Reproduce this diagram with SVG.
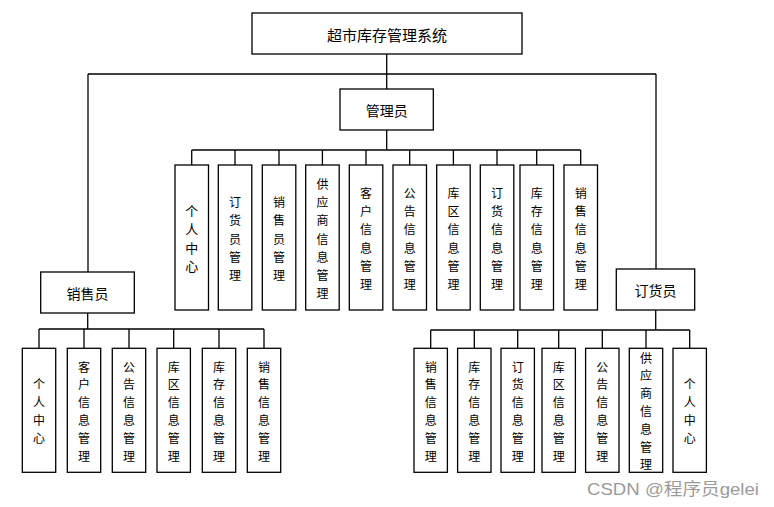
<svg xmlns="http://www.w3.org/2000/svg" width="774" height="507" viewBox="0 0 774 507">
<style>
.box{fill:#fff;stroke:#000;stroke-width:1.3}
.ln{fill:none;stroke:#000;stroke-width:1.3}
.t{font-family:"Noto Sans CJK SC","Liberation Sans",sans-serif;font-size:14px;fill:#000;text-anchor:middle;dominant-baseline:central}
.v{font-family:"Noto Sans CJK SC","Liberation Sans",sans-serif;font-size:12px;fill:#000;text-anchor:middle;dominant-baseline:central}
.wm{font-family:"Liberation Sans","Noto Sans CJK SC",sans-serif;font-size:17px;fill:#9a9a9a}
</style>
<rect width="774" height="507" fill="#fff"/>
<g id="connectors">
<path class="ln" d="M386.7 54V89M88 74H656M88 74V272M656 74V269"/>
<path class="ln" d="M386.7 130V150M191.7 150H580.7M191.7 150V165M235 150V165M279 150V165M322.4 150V165M366 150V165M409.7 150V165M453.4 150V165M497 150V165M536.7 150V165M580.7 150V165"/>
<path class="ln" d="M87.7 313V329M39 329H264M39 329V348M84 329V348M129 329V348M173.7 329V348M219 329V348M264 329V348"/>
<path class="ln" d="M655.7 310V330M430.7 330H689.7M430.7 330V348M474.3 330V348M517.7 330V348M558.7 330V348M602.3 330V348M646 330V348M689.7 330V348"/>
</g>
<g id="root"><rect class="box" x="252" y="13" width="270" height="41"/><text class="t" x="387" y="34" style="font-size:15px">超市库存管理系统</text></g>
<g id="admin"><rect class="box" x="340" y="89" width="93.3" height="41"/><text class="t" x="386.7" y="110">管理员</text></g>
<g id="seller"><rect class="box" x="40.7" y="272" width="93.6" height="41"/><text class="t" x="87.5" y="293">销售员</text></g>
<g id="orderer"><rect class="box" x="616.3" y="269" width="78.4" height="41"/><text class="t" x="655.5" y="290">订货员</text></g>

<g id="a1"><rect class="box" x="175" y="165" width="33.5" height="145"/><text class="v" style="font-size:13px"><tspan x="191.7" y="210.2">个</tspan><tspan x="191.7" dy="18.2">人</tspan><tspan x="191.7" dy="18.2">中</tspan><tspan x="191.7" dy="18.2">心</tspan></text></g>
<g id="a2"><rect class="box" x="218.3" y="165" width="33.5" height="145"/><text class="v"><tspan x="235" y="201.1">订</tspan><tspan x="235" dy="18.2">货</tspan><tspan x="235" dy="18.2">员</tspan><tspan x="235" dy="18.2">管</tspan><tspan x="235" dy="18.2">理</tspan></text></g>
<g id="a3"><rect class="box" x="262.3" y="165" width="33.5" height="145"/><text class="v"><tspan x="279" y="201.1">销</tspan><tspan x="279" dy="18.2">售</tspan><tspan x="279" dy="18.2">员</tspan><tspan x="279" dy="18.2">管</tspan><tspan x="279" dy="18.2">理</tspan></text></g>
<g id="a4"><rect class="box" x="305.7" y="165" width="33.5" height="145"/><text class="v"><tspan x="322.4" y="182.9">供</tspan><tspan x="322.4" dy="18.2">应</tspan><tspan x="322.4" dy="18.2">商</tspan><tspan x="322.4" dy="18.2">信</tspan><tspan x="322.4" dy="18.2">息</tspan><tspan x="322.4" dy="18.2">管</tspan><tspan x="322.4" dy="18.2">理</tspan></text></g>
<g id="a5"><rect class="box" x="349.3" y="165" width="33.5" height="145"/><text class="v"><tspan x="366" y="192">客</tspan><tspan x="366" dy="18.2">户</tspan><tspan x="366" dy="18.2">信</tspan><tspan x="366" dy="18.2">息</tspan><tspan x="366" dy="18.2">管</tspan><tspan x="366" dy="18.2">理</tspan></text></g>
<g id="a6"><rect class="box" x="393" y="165" width="33.5" height="145"/><text class="v"><tspan x="409.7" y="192">公</tspan><tspan x="409.7" dy="18.2">告</tspan><tspan x="409.7" dy="18.2">信</tspan><tspan x="409.7" dy="18.2">息</tspan><tspan x="409.7" dy="18.2">管</tspan><tspan x="409.7" dy="18.2">理</tspan></text></g>
<g id="a7"><rect class="box" x="436.7" y="165" width="33.5" height="145"/><text class="v"><tspan x="453.4" y="192">库</tspan><tspan x="453.4" dy="18.2">区</tspan><tspan x="453.4" dy="18.2">信</tspan><tspan x="453.4" dy="18.2">息</tspan><tspan x="453.4" dy="18.2">管</tspan><tspan x="453.4" dy="18.2">理</tspan></text></g>
<g id="a8"><rect class="box" x="480.3" y="165" width="33.5" height="145"/><text class="v"><tspan x="497" y="192">订</tspan><tspan x="497" dy="18.2">货</tspan><tspan x="497" dy="18.2">信</tspan><tspan x="497" dy="18.2">息</tspan><tspan x="497" dy="18.2">管</tspan><tspan x="497" dy="18.2">理</tspan></text></g>
<g id="a9"><rect class="box" x="520" y="165" width="33.5" height="145"/><text class="v"><tspan x="536.7" y="192">库</tspan><tspan x="536.7" dy="18.2">存</tspan><tspan x="536.7" dy="18.2">信</tspan><tspan x="536.7" dy="18.2">息</tspan><tspan x="536.7" dy="18.2">管</tspan><tspan x="536.7" dy="18.2">理</tspan></text></g>
<g id="a10"><rect class="box" x="564" y="165" width="33.5" height="145"/><text class="v"><tspan x="580.7" y="192">销</tspan><tspan x="580.7" dy="18.2">售</tspan><tspan x="580.7" dy="18.2">信</tspan><tspan x="580.7" dy="18.2">息</tspan><tspan x="580.7" dy="18.2">管</tspan><tspan x="580.7" dy="18.2">理</tspan></text></g>

<g id="s1"><rect class="box" x="22.3" y="348.3" width="33.4" height="124"/><text class="v"><tspan x="39" y="383.3">个</tspan><tspan x="39" dy="17.8">人</tspan><tspan x="39" dy="17.8">中</tspan><tspan x="39" dy="17.8">心</tspan></text></g>
<g id="s2"><rect class="box" x="67.3" y="348.3" width="33.4" height="124"/><text class="v"><tspan x="84" y="365.5">客</tspan><tspan x="84" dy="17.8">户</tspan><tspan x="84" dy="17.8">信</tspan><tspan x="84" dy="17.8">息</tspan><tspan x="84" dy="17.8">管</tspan><tspan x="84" dy="17.8">理</tspan></text></g>
<g id="s3"><rect class="box" x="112.3" y="348.3" width="33.4" height="124"/><text class="v"><tspan x="129" y="365.5">公</tspan><tspan x="129" dy="17.8">告</tspan><tspan x="129" dy="17.8">信</tspan><tspan x="129" dy="17.8">息</tspan><tspan x="129" dy="17.8">管</tspan><tspan x="129" dy="17.8">理</tspan></text></g>
<g id="s4"><rect class="box" x="157" y="348.3" width="33.4" height="124"/><text class="v"><tspan x="173.7" y="365.5">库</tspan><tspan x="173.7" dy="17.8">区</tspan><tspan x="173.7" dy="17.8">信</tspan><tspan x="173.7" dy="17.8">息</tspan><tspan x="173.7" dy="17.8">管</tspan><tspan x="173.7" dy="17.8">理</tspan></text></g>
<g id="s5"><rect class="box" x="202.3" y="348.3" width="33.4" height="124"/><text class="v"><tspan x="219" y="365.5">库</tspan><tspan x="219" dy="17.8">存</tspan><tspan x="219" dy="17.8">信</tspan><tspan x="219" dy="17.8">息</tspan><tspan x="219" dy="17.8">管</tspan><tspan x="219" dy="17.8">理</tspan></text></g>
<g id="s6"><rect class="box" x="247.3" y="348.3" width="33.4" height="124"/><text class="v"><tspan x="264" y="365.5">销</tspan><tspan x="264" dy="17.8">售</tspan><tspan x="264" dy="17.8">信</tspan><tspan x="264" dy="17.8">息</tspan><tspan x="264" dy="17.8">管</tspan><tspan x="264" dy="17.8">理</tspan></text></g>

<g id="o1"><rect class="box" x="414" y="348.3" width="33.4" height="124"/><text class="v"><tspan x="430.7" y="365.5">销</tspan><tspan x="430.7" dy="17.8">售</tspan><tspan x="430.7" dy="17.8">信</tspan><tspan x="430.7" dy="17.8">息</tspan><tspan x="430.7" dy="17.8">管</tspan><tspan x="430.7" dy="17.8">理</tspan></text></g>
<g id="o2"><rect class="box" x="457.6" y="348.3" width="33.4" height="124"/><text class="v"><tspan x="474.3" y="365.5">库</tspan><tspan x="474.3" dy="17.8">存</tspan><tspan x="474.3" dy="17.8">信</tspan><tspan x="474.3" dy="17.8">息</tspan><tspan x="474.3" dy="17.8">管</tspan><tspan x="474.3" dy="17.8">理</tspan></text></g>
<g id="o3"><rect class="box" x="501" y="348.3" width="33.4" height="124"/><text class="v"><tspan x="517.7" y="365.5">订</tspan><tspan x="517.7" dy="17.8">货</tspan><tspan x="517.7" dy="17.8">信</tspan><tspan x="517.7" dy="17.8">息</tspan><tspan x="517.7" dy="17.8">管</tspan><tspan x="517.7" dy="17.8">理</tspan></text></g>
<g id="o4"><rect class="box" x="542" y="348.3" width="33.4" height="124"/><text class="v"><tspan x="558.7" y="365.5">库</tspan><tspan x="558.7" dy="17.8">区</tspan><tspan x="558.7" dy="17.8">信</tspan><tspan x="558.7" dy="17.8">息</tspan><tspan x="558.7" dy="17.8">管</tspan><tspan x="558.7" dy="17.8">理</tspan></text></g>
<g id="o5"><rect class="box" x="585.6" y="348.3" width="33.4" height="124"/><text class="v"><tspan x="602.3" y="365.5">公</tspan><tspan x="602.3" dy="17.8">告</tspan><tspan x="602.3" dy="17.8">信</tspan><tspan x="602.3" dy="17.8">息</tspan><tspan x="602.3" dy="17.8">管</tspan><tspan x="602.3" dy="17.8">理</tspan></text></g>
<g id="o6"><rect class="box" x="629.3" y="348.3" width="33.4" height="124"/><text class="v"><tspan x="646" y="356.6">供</tspan><tspan x="646" dy="17.8">应</tspan><tspan x="646" dy="17.8">商</tspan><tspan x="646" dy="17.8">信</tspan><tspan x="646" dy="17.8">息</tspan><tspan x="646" dy="17.8">管</tspan><tspan x="646" dy="17.8">理</tspan></text></g>
<g id="o7"><rect class="box" x="673" y="348.3" width="33.4" height="124"/><text class="v"><tspan x="689.7" y="383.3">个</tspan><tspan x="689.7" dy="17.8">人</tspan><tspan x="689.7" dy="17.8">中</tspan><tspan x="689.7" dy="17.8">心</tspan></text></g>

<text class="wm" x="587" y="495" textLength="172" lengthAdjust="spacingAndGlyphs">CSDN @程序员gelei</text>
</svg>
